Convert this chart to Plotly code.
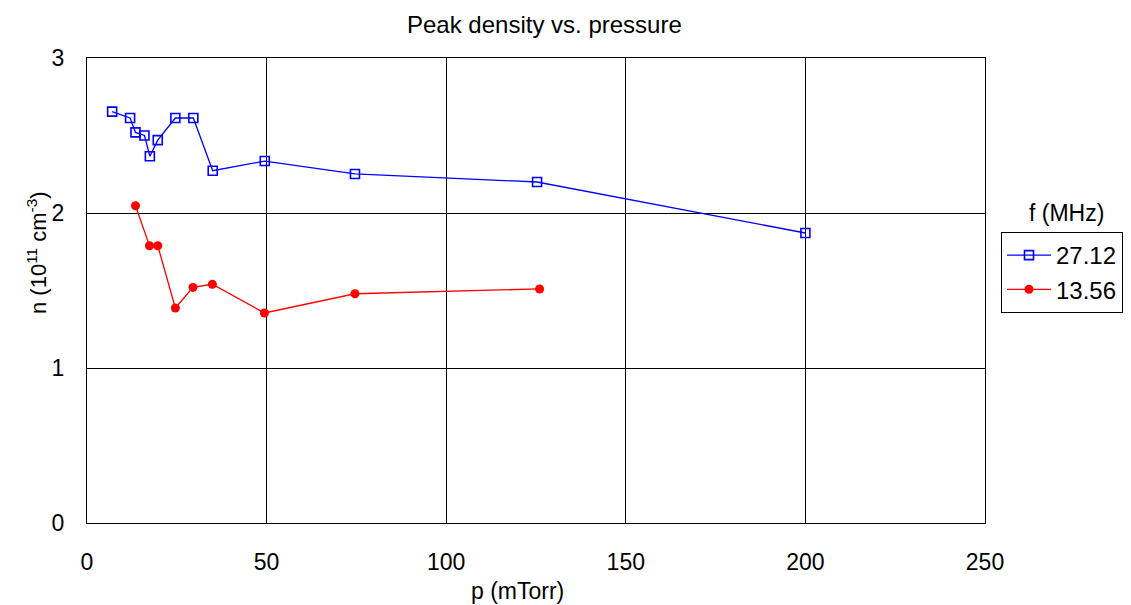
import plotly.graph_objects as go

# Pressure (mTorr) and peak density (1e11 cm^-3) for each drive frequency
p_27 = [7, 12, 13.5, 16, 17.5, 19.7, 24.6, 29.6, 35, 49.5, 74.6, 125.3, 200]
n_27 = [2.654, 2.613, 2.52, 2.50, 2.366, 2.47, 2.613, 2.613, 2.273, 2.335, 2.252, 2.20, 1.871]

p_13 = [13.5, 17.4, 19.7, 24.6, 29.5, 34.9, 49.4, 74.6, 126]
n_13 = [2.047, 1.789, 1.789, 1.387, 1.52, 1.54, 1.355, 1.479, 1.51]

x_ticks = [0, 50, 100, 150, 200, 250]
y_ticks = [0, 1, 2, 3]

FONT = "Liberation Sans, Arial, sans-serif"

fig = go.Figure()
fig.add_trace(go.Scatter(
    x=p_27, y=n_27, name="27.12", mode="lines+markers",
    line=dict(color="#0000ff", width=1.3),
    marker=dict(symbol="square-open", size=9, color="#0000ff", line=dict(width=1.6)),
))
fig.add_trace(go.Scatter(
    x=p_13, y=n_13, name="13.56", mode="lines+markers",
    line=dict(color="#ff0000", width=1.3),
    marker=dict(symbol="circle", size=9, color="#ff0000"),
))

L, R, T, B = 87, 146, 58, 82
W, H = 1131, 605
pw, ph = W - L - R, H - T - B

def px_x(px):
    return (px - L) / pw

def px_y(py):
    return (H - B - py) / ph

axis_common = dict(
    showline=True, mirror=True, linecolor="#000000", linewidth=1,
    showgrid=True, gridcolor="#000000", gridwidth=1,
    zeroline=False, ticks="", tickfont=dict(family=FONT, size=23, color="#000000"),
)

def label(text, x, y, size=23, angle=0):
    return dict(text=text, x=px_x(x), y=px_y(y), xref="paper", yref="paper",
                xanchor="center", yanchor="middle", showarrow=False,
                textangle=angle, font=dict(family=FONT, size=size))

fig.update_layout(
    width=W, height=H,
    margin=dict(l=L, r=R, t=T, b=B, autoexpand=False),
    paper_bgcolor="white", plot_bgcolor="white",
    font=dict(family=FONT, color="#000000"),
    xaxis=dict(range=[0, 250], tickvals=x_ticks, ticklabelstandoff=18, **axis_common),
    yaxis=dict(range=[0, 3], tickvals=y_ticks, ticklabelstandoff=17, **axis_common),
    showlegend=True,
    legend=dict(
        x=px_x(1001), y=px_y(232), xanchor="left", yanchor="top",
        bordercolor="#000000", borderwidth=1, bgcolor="white",
        font=dict(family=FONT, size=24, color="#000000"),
        tracegroupgap=0, itemwidth=44,
    ),
    annotations=[
        label("Peak density vs. pressure", 544, 25, size=24),
        label("p (mTorr)", 517, 591),
        label("n (10<sup>11</sup> cm<sup>-3</sup>)", 37, 253, size=22, angle=-90),
        label("f (MHz)", 1066, 213),
    ],
)

fig.write_html("out.html")
